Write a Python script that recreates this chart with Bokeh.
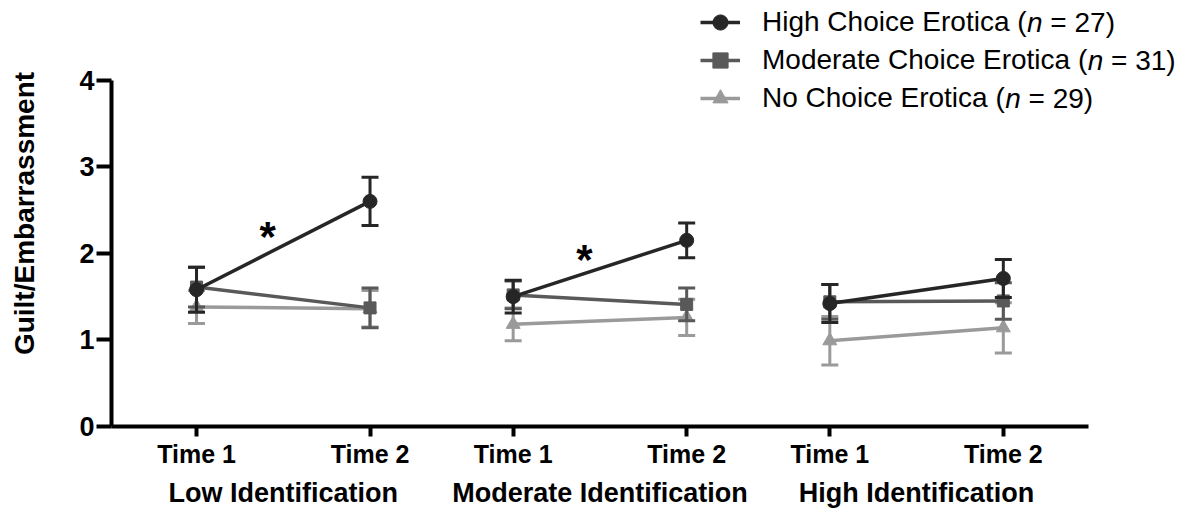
from bokeh.plotting import figure
from bokeh.models import (Range1d, FixedTicker, LinearAxis, Label, Legend,
                          LegendItem, ColumnDataSource)
from bokeh.embed import file_html
from bokeh.resources import INLINE

# ---------------- data ----------------
groups = ["Low Identification", "Moderate Identification", "High Identification"]
times = ["Time 1", "Time 2"]
series_names = ["High Choice Erotica", "Moderate Choice Erotica", "No Choice Erotica"]
series_n = [27, 31, 29]

# values per (group, time): Low T1, Low T2, Mod T1, Mod T2, High T1, High T2
high_choice = [1.58, 2.60, 1.50, 2.15, 1.42, 1.71]
high_choice_err = [0.26, 0.28, 0.19, 0.20, 0.22, 0.22]
moderate_choice = [1.61, 1.37, 1.52, 1.41, 1.44, 1.45]
moderate_choice_err = [0.23, 0.23, 0.16, 0.19, 0.20, 0.21]
no_choice = [1.38, 1.36, 1.18, 1.26, 0.99, 1.14]
no_choice_err = [0.19, 0.21, 0.19, 0.21, 0.28, 0.29]

sig_groups = [0, 1]          # groups with a significant High Choice change (*)
y_ticks = [0, 1, 2, 3, 4]

# ---------------- layout helpers ----------------
TIME_STEP = 1000
GROUP_STEP = 1825
FONT = "Liberation Sans"

def xpos(g, t):
    return g * GROUP_STEP + t * TIME_STEP

xs = [xpos(g, t) for g in range(len(groups)) for t in range(len(times))]
X_AXIS_END = 5141

p = figure(width=1189, height=512, output_backend="svg", toolbar_location=None,
           x_range=Range1d(-490, 5723), y_range=Range1d(0, 4.92),
           min_border_left=111, min_border_right=0,
           min_border_top=0, min_border_bottom=86,
           x_axis_type=None, y_axis_type=None)
p.outline_line_color = None
p.xgrid.visible = False
p.ygrid.visible = False
p.background_fill_color = "white"
p.border_fill_color = "white"

# y axis
yax = LinearAxis(ticker=FixedTicker(ticks=y_ticks), bounds=(0, 4))
yax.axis_line_width = 4
yax.axis_line_color = "black"
yax.major_tick_line_width = 4
yax.major_tick_line_color = "black"
yax.major_tick_out = 15
yax.major_tick_in = 0
yax.minor_tick_line_color = None
yax.major_label_text_font = FONT
yax.major_label_text_font_style = "bold"
yax.major_label_text_font_size = "27px"
yax.major_label_text_color = "black"
yax.major_label_standoff = 2
yax.axis_label = "Guilt/Embarrassment"
yax.axis_label_text_font = FONT
yax.axis_label_text_font_style = "bold"
yax.axis_label_text_font_size = "28px"
yax.axis_label_text_color = "black"
yax.axis_label_standoff = 36
p.add_layout(yax, "left")

# x axis (Time ticks)
xax = LinearAxis(ticker=FixedTicker(ticks=xs), bounds=(-490, X_AXIS_END))
xax.major_label_overrides = {x: times[i % 2] for i, x in enumerate(xs)}
xax.axis_line_width = 4
xax.axis_line_color = "black"
xax.major_tick_line_width = 4
xax.major_tick_line_color = "black"
xax.major_tick_out = 10
xax.major_tick_in = 0
xax.minor_tick_line_color = None
xax.major_label_text_font = FONT
xax.major_label_text_font_style = "bold"
xax.major_label_text_font_size = "25px"
xax.major_label_text_color = "black"
xax.major_label_standoff = 3
p.add_layout(xax, "below")

# group axis
gcent = [xpos(g, 0.5) for g in range(len(groups))]
gax = LinearAxis(ticker=FixedTicker(ticks=gcent))
gax.major_label_overrides = {x: groups[i] for i, x in enumerate(gcent)}
gax.axis_line_color = None
gax.major_tick_line_color = None
gax.minor_tick_line_color = None
gax.major_label_text_font = FONT
gax.major_label_text_font_style = "bold"
gax.major_label_text_font_size = "27px"
gax.major_label_text_color = "black"
gax.major_label_standoff = 1
p.add_layout(gax, "below")

# ---------------- series ----------------
series = [
    (no_choice, no_choice_err, "#9a9a9a", "triangle", 14),
    (moderate_choice, moderate_choice_err, "#595959", "square", 12),
    (high_choice, high_choice_err, "#262626", "circle", 14),
]
renderers = []
for vals, errs, color, marker, size in series:
    seg = dict(x0=[], x1=[], y0=[], y1=[])
    for g in range(len(groups)):
        seg["x0"].append(xpos(g, 0)); seg["x1"].append(xpos(g, 1))
        seg["y0"].append(vals[2 * g]); seg["y1"].append(vals[2 * g + 1])
    lr = p.segment(x0="x0", y0="y0", x1="x1", y1="y1", source=ColumnDataSource(seg),
                   line_color=color, line_width=3.5)
    lo = [v - e for v, e in zip(vals, errs)]
    hi = [v + e for v, e in zip(vals, errs)]
    p.segment(x0=xs, y0=lo, x1=xs, y1=hi, line_color=color, line_width=3)
    p.scatter(x=xs + xs, y=lo + hi, marker="dash", size=17, line_color=color, line_width=3)
    mr = p.scatter(x=xs, y=vals, marker=marker, size=size, fill_color=color, line_color=color)
    renderers.append((lr, mr))

# significance asterisks
for g in sig_groups:
    yv = (high_choice[2 * g] + high_choice[2 * g + 1]) / 2 + 0.10
    p.add_layout(Label(x=xpos(g, 0.41), y=yv, text="*", text_font=FONT,
                       text_font_style="bold", text_font_size="42px",
                       text_align="center", text_baseline="middle", text_color="black"))

# ---------------- legend ----------------
LEG_FS = 28
items = []
order = [2, 1, 0]
for k, idx in enumerate(order):
    lr, mr = renderers[idx]
    items.append(LegendItem(label=series_names[k] + " (", renderers=[lr, mr]))
legend = Legend(items=items, location=(589, 309), orientation="vertical",
                glyph_width=40, glyph_height=38, label_height=38, label_standoff=22,
                spacing=0, padding=0, margin=0, border_line_color=None,
                background_fill_alpha=0, label_text_font=FONT,
                label_text_font_size=f"{LEG_FS}px", label_text_color="black")
p.add_layout(legend, "center")

# Arial/Liberation Sans advance widths (per 1000 em)
W = {' ': 278, '(': 333, ')': 333, '=': 584, 'n': 556, 'H': 722, 'i': 222, 'g': 556,
     'h': 556, 'C': 722, 'o': 556, 'c': 500, 'e': 556, 'E': 667, 'r': 333, 't': 278,
     'a': 556, 'M': 833, 'd': 556, 'N': 722}
def tw(s):
    return sum(W[c] for c in s) * LEG_FS / 1000.0

text_x0 = 589 + 40 + 22
for k in range(3):
    base = series_names[k] + " ("
    yc = 309 + 38 * (2 - k) + 19
    xn = text_x0 + tw(base)
    p.add_layout(Label(x=xn, y=yc, x_units="screen", y_units="screen", text="n",
                       text_font=FONT, text_font_style="italic",
                       text_font_size=f"{LEG_FS}px", text_baseline="middle",
                       text_color="black"))
    p.add_layout(Label(x=xn + tw("n "), y=yc, x_units="screen",
                       y_units="screen", text=f"= {series_n[k]})", text_font=FONT,
                       text_font_size=f"{LEG_FS}px", text_baseline="middle",
                       text_color="black"))

open("out.html", "w").write(file_html(p, INLINE))
